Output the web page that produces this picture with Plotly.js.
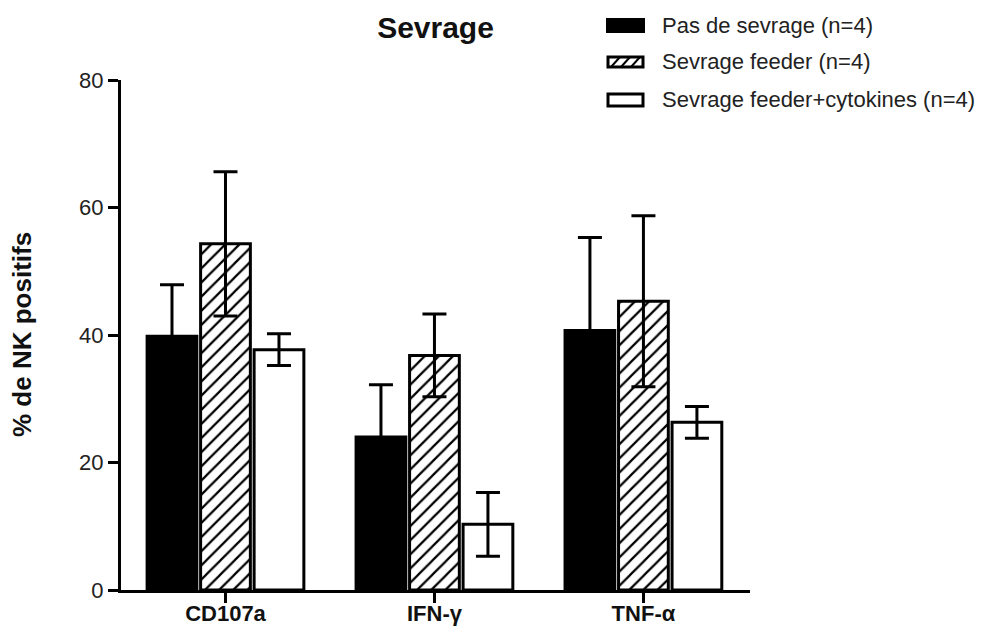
<!DOCTYPE html>
<html>
<head>
<meta charset="utf-8">
<script src="https://cdn.plot.ly/plotly-3.0.1.min.js"></script>
<style>html,body{margin:0;padding:0;background:#fff;}#chart{width:988px;height:628px;}</style>
</head>
<body>
<div id="chart"></div>
<script>
// ---- data ----
const categories = ['CD107a', 'IFN-γ', 'TNF-α'];
const seriesNames = ['Pas de sevrage (n=4)', 'Sevrage feeder (n=4)', 'Sevrage feeder+cytokines (n=4)'];
const pasDeSevrage = [39.8, 24.0, 40.7];
const pasDeSevrageErr = [8.1, 8.2, 14.6];
const sevrageFeeder = [54.3, 36.8, 45.3];
const sevrageFeederErr = [11.3, 6.5, 13.4];
const sevrageCytokines = [37.7, 10.3, 26.3];
const sevrageCytokinesErr = [2.5, 5.0, 2.5];
const yTicks = [0, 20, 40, 60, 80];

// ---- layout helpers (plot area in pixels) ----
const L = 121, R = 750, T = 80, B = 590;
const px = x => (x - L) / (R - L);
const py = y => (B - y) / (B - T);

const errStyle = arr => ({type: 'data', array: arr, visible: true, color: '#000', thickness: 3, width: 12});
const lineStyle = {color: '#000', width: 3};

const traces = [
  {type: 'bar', name: seriesNames[0], x: categories, y: pasDeSevrage,
   marker: {color: '#000', line: lineStyle}, error_y: errStyle(pasDeSevrageErr)},
  {type: 'bar', name: seriesNames[1], x: categories, y: sevrageFeeder,
   marker: {color: '#fff', line: lineStyle,
            pattern: {shape: '/', fgcolor: '#000', bgcolor: '#fff', size: 10, solidity: 0.22}},
   error_y: errStyle(sevrageFeederErr)},
  {type: 'bar', name: seriesNames[2], x: categories, y: sevrageCytokines,
   marker: {color: '#fff', line: lineStyle}, error_y: errStyle(sevrageCytokinesErr)}
];

// custom legend (wide swatches)
const rows = [26, 62, 100];
const shapes = [];
const annotations = [];
const sx0 = 607, sx1 = 644;
shapes.push({type: 'rect', xref: 'paper', yref: 'paper', x0: px(sx0), x1: px(sx1), y0: py(rows[0] - 7), y1: py(rows[0] + 6),
  fillcolor: '#000', line: {color: '#000', width: 2}});
shapes.push({type: 'rect', xref: 'paper', yref: 'paper', x0: px(sx0 + 1), x1: px(sx1 - 1), y0: py(rows[1] - 5), y1: py(rows[1] + 5),
  fillcolor: '#fff', line: {color: '#000', width: 3}});
[611, 621, 631].forEach(x => {
  shapes.push({type: 'line', xref: 'paper', yref: 'paper', x0: px(x), y0: py(rows[1] + 5), x1: px(x + 9), y1: py(rows[1] - 5),
    line: {color: '#000', width: 2}});
});
shapes.push({type: 'rect', xref: 'paper', yref: 'paper', x0: px(sx0 + 1), x1: px(sx1 - 1), y0: py(rows[2] - 6), y1: py(rows[2] + 6),
  fillcolor: '#fff', line: {color: '#000', width: 3}});
seriesNames.forEach((n, i) => {
  annotations.push({xref: 'paper', yref: 'paper', x: px(660), y: py(rows[i]), xanchor: 'left', yanchor: 'middle',
    text: n, showarrow: false, font: {family: 'Liberation Sans, Arial, sans-serif', size: 22, color: '#222'}});
});
// y axis title
annotations.push({xref: 'paper', yref: 'paper', x: px(22), y: py(335), xanchor: 'center', yanchor: 'middle',
  text: '<b>% de NK positifs</b>', textangle: -90, showarrow: false,
  font: {family: 'Liberation Sans, Arial, sans-serif', size: 26, color: '#111'}});

const layout = {
  width: 988, height: 628,
  margin: {l: L, r: 988 - R, t: T, b: 628 - B, pad: 0},
  paper_bgcolor: '#fff', plot_bgcolor: '#fff',
  showlegend: false,
  barmode: 'group', bargap: 0.232, bargroupgap: 0.07,
  title: {text: '<b>Sevrage</b>', xref: 'paper', x: 0.5, xanchor: 'center', yref: 'container', y: 1 - 27 / 628, yanchor: 'middle',
    font: {family: 'Liberation Sans, Arial, sans-serif', size: 30, color: '#111'}},
  xaxis: {type: 'category', range: [-0.5, 2.51], showline: true, linecolor: '#000', linewidth: 3,
    ticks: 'outside', ticklen: 10, tickwidth: 3, tickcolor: '#000', showgrid: false, zeroline: false,
    ticklabelstandoff: -8,
    tickfont: {family: 'Liberation Sans, Arial, sans-serif', size: 22, color: '#111', weight: 'bold'}},
  yaxis: {range: [0, 80], tickvals: yTicks, ticktext: yTicks.map(String), showline: true, linecolor: '#000', linewidth: 3,
    ticks: 'outside', ticklen: 10, tickwidth: 3, tickcolor: '#000', showgrid: false, zeroline: false,
    tickfont: {family: 'Liberation Sans, Arial, sans-serif', size: 22, color: '#222'}},
  shapes: shapes,
  annotations: annotations
};

Plotly.newPlot('chart', traces, layout, {staticPlot: true, displayModeBar: false});
</script>
</body>
</html>
